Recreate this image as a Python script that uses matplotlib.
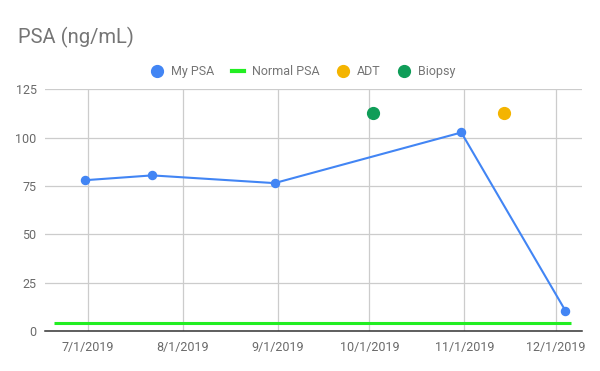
import pandas as pd
import matplotlib.pyplot as plt
from matplotlib.lines import Line2D

plt.rcParams['font.family'] = ['Roboto', 'DejaVu Sans']

psa_dates = pd.to_datetime(['2019-06-30', '2019-07-22', '2019-08-31', '2019-10-31', '2019-12-04'])
psa_values = [78, 80.5, 76.5, 102.7, 10.5]

normal_dates = pd.to_datetime(['2019-06-20', '2019-12-06'])
normal_values = [4, 4]

adt_dates = pd.to_datetime(['2019-11-14'])
adt_values = [113]

biopsy_dates = pd.to_datetime(['2019-10-02'])
biopsy_values = [113]

x_ticks = pd.to_datetime(['2019-07-01', '2019-08-01', '2019-09-01', '2019-10-01', '2019-11-01', '2019-12-01'])
x_labels = ['7/1/2019', '8/1/2019', '9/1/2019', '10/1/2019', '11/1/2019', '12/1/2019']
y_ticks = [0, 25, 50, 75, 100, 125]

blue = '#4285F4'
lime = '#22EE22'
orange = '#F4B400'
green = '#0F9D58'
text_color = '#757575'

fig = plt.figure(figsize=(6, 3.71), dpi=100)
ax = fig.add_axes([0.075, 0.108, 0.8945, 0.651])

ax.plot(normal_dates, normal_values, color=lime, lw=2.2, solid_capstyle='butt', zorder=3)
ax.plot(psa_dates, psa_values, color=blue, lw=1.5, marker='o', ms=5.8, zorder=4)
ax.plot(adt_dates, adt_values, ls='none', marker='o', ms=8.5, color=orange, zorder=4)
ax.plot(biopsy_dates, biopsy_values, ls='none', marker='o', ms=8.5, color=green, zorder=4)

ax.set_xlim(pd.Timestamp('2019-06-17'), pd.Timestamp('2019-12-09 08:00'))
ax.set_ylim(0, 125)
ax.set_xticks(x_ticks)
ax.set_xticklabels(x_labels)
ax.set_yticks(y_ticks)

ax.grid(True, color='#cccccc', lw=0.9)
ax.set_axisbelow(True)
for side in ['top', 'right', 'left']:
    ax.spines[side].set_visible(False)
ax.spines['bottom'].set_color('#333333')
ax.spines['bottom'].set_linewidth(1.1)
ax.tick_params(length=0, labelsize=9, colors='#6a6a6a', pad=7)
ax.tick_params(axis='y', pad=6)

fig.text(0.03, 0.9, 'PSA (ng/mL)', fontsize=14.5, color=text_color, va='center')

handles = [
    Line2D([], [], ls='none', marker='o', ms=8.5, color=blue),
    Line2D([], [], color=lime, lw=3),
    Line2D([], [], ls='none', marker='o', ms=8.5, color=orange),
    Line2D([], [], ls='none', marker='o', ms=8.5, color=green),
]
leg = fig.legend(handles, ['My PSA', 'Normal PSA', 'ADT', 'Biopsy'], loc='center',
                 bbox_to_anchor=(0.505, 0.806), ncol=4, frameon=False, fontsize=9,
                 handlelength=1.0, handletextpad=0.6, columnspacing=1.4)
for t in leg.get_texts():
    t.set_color(text_color)

fig.savefig('out.png', dpi=100)
